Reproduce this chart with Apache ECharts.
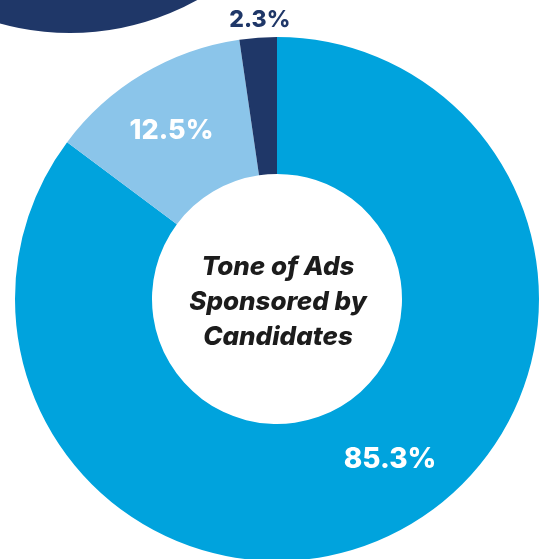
<!DOCTYPE html>
<html>
<head>
<meta charset="utf-8">
<script src="https://cdn.jsdelivr.net/npm/echarts@6/dist/echarts.min.js"></script>
<style>
html,body{margin:0;padding:0;background:#fff;}
#chart{width:541px;height:559px;}
</style>
</head>
<body>
<div id="chart"></div>
<script>
const categories = ['Positive', 'Contrast', 'Negative'];
const values = [85.3, 12.5, 2.3];
const labels = ['85.3%', '12.5%', '2.3%'];
const centerTitle = ['Tone of Ads', 'Sponsored by', 'Candidates'];

const colors = ['#00A3DD', '#8BC5EA', '#1F3768'];
const labelColors = ['#ffffff', '#ffffff', '#1F3768'];
const labelOffsets = [[25, -15], [-5, 1], [-3, -83]];
const labelSizes = [28, 27, 23];

const chart = echarts.init(document.getElementById('chart'), null, {renderer: 'canvas'});
const FONT = 'Inter, "Open Sans", sans-serif';

chart.setOption({
  animation: false,
  backgroundColor: '#ffffff',
  graphic: [
    {
      type: 'circle',
      shape: {cx: 70, cy: -229, r: 262},
      style: {fill: '#1F3768'},
      z: 0
    },
    {
      type: 'text',
      x: 278,
      y: 302,
      z: 100,
      style: {
        text: centerTitle.join('\n'),
        textAlign: 'center',
        textVerticalAlign: 'middle',
        font: 'italic 800 26px ' + FONT,
        lineHeight: 35,
        fill: '#1c1c1c'
      }
    }
  ],
  series: [{
    type: 'pie',
    center: [277, 299],
    radius: [125, 262],
    startAngle: 90,
    clockwise: true,
    avoidLabelOverlap: false,
    labelLine: {show: false},
    emphasis: {disabled: true},
    data: categories.map((c, i) => ({
      name: c,
      value: values[i],
      itemStyle: {color: colors[i]},
      label: {
        show: true,
        position: 'inside',
        formatter: labels[i],
        color: labelColors[i],
        fontFamily: FONT,
        fontWeight: 800,
        fontSize: labelSizes[i],
        offset: labelOffsets[i]
      }
    }))
  }]
});
</script>
</body>
</html>
